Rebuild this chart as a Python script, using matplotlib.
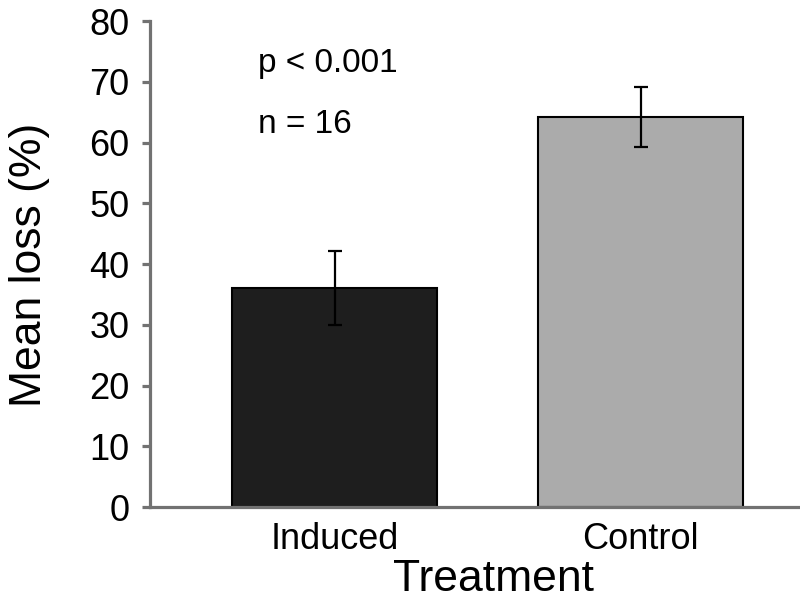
"""
Mean loss by treatment, bar chart with error bars.
"""
import matplotlib
matplotlib.use('Agg')
import matplotlib.pyplot as plt

# data
treatments = ['Induced', 'Control']
mean_loss = [36.0, 64.2]
err = [6.1, 4.9]
bar_colors = ['#1e1e1e', '#ababab']

y_ticks = [0, 10, 20, 30, 40, 50, 60, 70, 80]
p_text = 'p < 0.001'
n_text = 'n = 16'

plt.rcParams['font.family'] = ['Liberation Sans', 'DejaVu Sans']

fig = plt.figure(figsize=(8, 6.02), dpi=100)
ax = fig.add_axes([0.1875, 0.1578, 0.8125, 0.8072])

x = list(range(len(treatments)))
ax.bar(x, mean_loss, width=0.67, color=bar_colors,
       edgecolor='black', linewidth=1.5, zorder=2)
ax.errorbar(x, mean_loss, yerr=err, fmt='none', ecolor='black',
            elinewidth=1.6, capsize=5, capthick=1.6, zorder=3)

ax.set_xlim(-0.604, 1.52)
ax.set_ylim(0, 80)
ax.set_yticks(y_ticks)
ax.set_xticks(x)
ax.set_xticklabels(treatments)

spine_col = '#727272'
for side in ['top', 'right']:
    ax.spines[side].set_visible(False)
for side in ['left', 'bottom']:
    ax.spines[side].set_color(spine_col)
    ax.spines[side].set_linewidth(2.3)
ax.tick_params(axis='y', length=6, width=2.3, color=spine_col,
               labelsize=26, pad=9)
ax.tick_params(axis='x', length=0, labelsize=26, pad=11)

ax.text(-0.25, 71.6, p_text, fontsize=24, va='baseline')
ax.text(-0.25, 61.6, n_text, fontsize=24, va='baseline')

ax.set_xlabel('Treatment', fontsize=32)
ax.xaxis.set_label_coords(0.528, -0.107)
fig.text(30 / 800, 1 - 265 / 602, 'Mean loss (%)', fontsize=32,
         rotation=90, ha='center', va='center')

fig.savefig('out.png', dpi=100)
